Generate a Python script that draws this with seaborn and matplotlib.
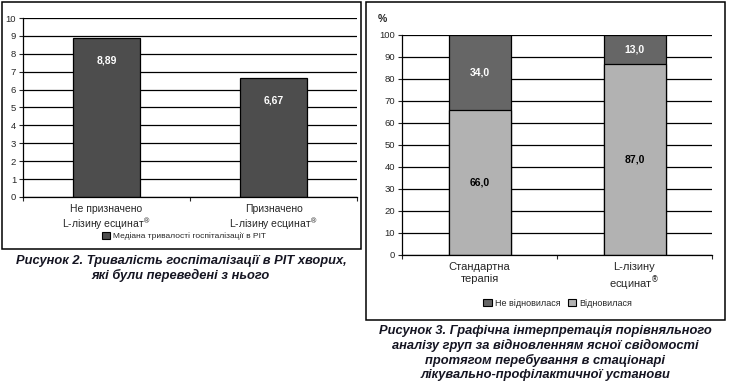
import matplotlib
matplotlib.use("Agg")
import matplotlib.pyplot as plt
import seaborn as sns
import pandas as pd
from matplotlib.patches import Patch, Rectangle

# --- data ---
groups_left = ["Не призначено\nL-лізину есцинат$^{®}$", "Призначено\nL-лізину есцинат$^{®}$"]
median_days = [8.89, 6.67]
legend_left = "Медіана тривалості госпіталізації в РІТ"

groups_right = ["Стандартна\nтерапія", "L-лізину\nесцинат$^{®}$"]
recovered = [66.0, 87.0]
not_recovered = [34.0, 13.0]
legend_right = ["Не відновилася", "Відновилася"]

caption_left = "Рисунок 2. Тривалість госпіталізації в РІТ хворих,\nякі були переведені з нього"
caption_right = ("Рисунок 3. Графічна інтерпретація порівняльного\n"
                 "аналізу груп за відновленням ясної свідомості\n"
                 "протягом перебування в стаціонарі\n"
                 "лікувально-профілактичної установи")

sns.set_style("white")
plt.rcParams['font.family'] = ['Liberation Sans', 'DejaVu Sans']

W, H = 729, 392
fig = plt.figure(figsize=(W / 100, H / 100), dpi=100)


def ax_px(x0, y0, x1, y1):
    return fig.add_axes([x0 / W, (H - y1) / H, (x1 - x0) / W, (y1 - y0) / H])


def fmt(v, d):
    return f"{v:.{d}f}".replace(".", ",")


def style_axes(ax):
    ax.set_xlabel("")
    ax.set_ylabel("")
    for s in ["top", "right"]:
        ax.spines[s].set_visible(False)
    for s in ["left", "bottom"]:
        ax.spines[s].set_color("black")
        ax.spines[s].set_linewidth(0.9)
    ax.yaxis.grid(True, color="black", linewidth=0.9)
    ax.xaxis.grid(False)
    ax.set_axisbelow(True)
    ax.tick_params(axis="y", length=3, width=0.8, direction="out", labelsize=6.8, pad=2, left=True)
    ax.tick_params(axis="x", which="major", length=0, labelsize=7.5, pad=5)
    ax.set_xticks([-0.5, 0.5, 1.5], minor=True)
    ax.tick_params(axis="x", which="minor", length=3, width=0.8, direction="out", bottom=True)
    ax.set_xlim(-0.5, 1.5)


# panel frames
fig.patches.append(Rectangle((2 / W, (H - 249) / H), 359 / W, 247 / H, transform=fig.transFigure,
                             fill=False, edgecolor="black", linewidth=1.1))
fig.patches.append(Rectangle((366 / W, (H - 320) / H), 359 / W, 318 / H, transform=fig.transFigure,
                             fill=False, edgecolor="black", linewidth=1.1))

# --- left chart ---
dfl = pd.DataFrame({"group": groups_left, "days": median_days})
ax1 = ax_px(23, 18, 357, 197)
sns.barplot(data=dfl, x="group", y="days", color="#4d4d4d", saturation=1, width=0.4,
            edgecolor="black", linewidth=0.9, ax=ax1)
ax1.set_ylim(0, 10)
ax1.set_yticks(range(0, 11))
style_axes(ax1)
ax1.bar_label(ax1.containers[0], labels=[fmt(v, 2) for v in median_days], padding=-20,
              color="white", fontweight="bold", fontsize=7.5)
ax1.legend(handles=[Patch(facecolor="#4d4d4d", edgecolor="black", linewidth=0.8, label=legend_left)],
           loc="center", bbox_to_anchor=(184 / W, (H - 236) / H), bbox_transform=fig.transFigure,
           frameon=False, fontsize=6, handlelength=0.9, handleheight=0.9, handletextpad=0.4)

# --- right chart ---
dfr = pd.DataFrame({"group": groups_right, "rec": recovered, "nrec": not_recovered})
dfr["total"] = dfr["rec"] + dfr["nrec"]
ax2 = ax_px(402, 35, 712, 255)
sns.barplot(data=dfr, x="group", y="total", color="#666666", saturation=1, width=0.4,
            edgecolor="black", linewidth=0.9, ax=ax2)
sns.barplot(data=dfr, x="group", y="rec", color="#b2b2b2", saturation=1, width=0.4,
            edgecolor="black", linewidth=0.9, ax=ax2)
ax2.set_ylim(0, 100)
ax2.set_yticks(range(0, 101, 10))
style_axes(ax2)
ax2.tick_params(axis="x", which="major", labelsize=8)
for i, (r, n) in enumerate(zip(recovered, not_recovered)):
    ax2.text(i, r / 2, fmt(r, 1), ha="center", va="center", color="black", fontweight="bold", fontsize=7.5)
    ax2.text(i, r + n / 2, fmt(n, 1), ha="center", va="center", color="white", fontweight="bold", fontsize=7.5)
ax2.text(-0.05, 1.05, "%", transform=ax2.transAxes, ha="right", va="bottom", fontsize=7.5, fontweight="bold")
ax2.legend(handles=[Patch(facecolor="#666666", edgecolor="black", linewidth=0.8, label=legend_right[0]),
                    Patch(facecolor="#b2b2b2", edgecolor="black", linewidth=0.8, label=legend_right[1])],
           loc="center", ncol=2, bbox_to_anchor=(558 / W, (H - 303) / H), bbox_transform=fig.transFigure,
           frameon=False, fontsize=6.5, handlelength=0.9, handleheight=0.9, handletextpad=0.4,
           columnspacing=0.8)

# --- captions ---
cap_kw = dict(ha="center", va="top", fontsize=9.3, fontweight="bold", fontstyle="italic",
              color="#151522", linespacing=1.2, multialignment="center")
fig.text(181 / W, (H - 255) / H, caption_left, **cap_kw)
fig.text(545 / W, (H - 325) / H, caption_right, **cap_kw)

fig.savefig("out.png", dpi=100)
